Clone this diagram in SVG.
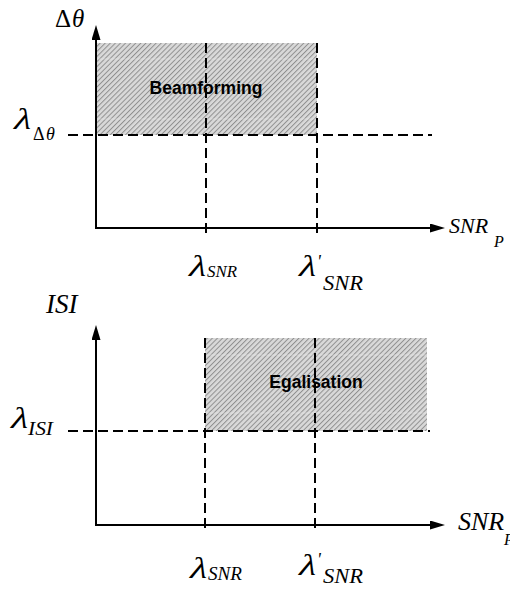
<svg xmlns="http://www.w3.org/2000/svg" width="510" height="589" viewBox="0 0 510 589">
  <defs>
    <pattern id="hatch" width="3.6" height="3.6" patternUnits="userSpaceOnUse" patternTransform="rotate(45)">
      <rect width="3.6" height="3.6" fill="#d9d9d9"/>
      <line x1="0.5" y1="0" x2="0.5" y2="3.6" stroke="#8f8f8f" stroke-width="1"/>
    </pattern>
    <marker id="arr" markerWidth="15" markerHeight="9" refX="0" refY="4.5" orient="auto" markerUnits="userSpaceOnUse">
      <path d="M0,0 L15,4.5 L0,9 z" fill="#000"/>
    </marker>
  </defs>
  <style>
    .axis { stroke:#000; stroke-width:2; fill:none; }
    .dash { stroke:#000; stroke-width:2; stroke-dasharray:10 5; fill:none; }
    .band { stroke:#efefef; stroke-width:1.2; opacity:0.45; }
    .math { font-family:"Liberation Serif","DejaVu Serif",serif; font-style:italic; fill:#000; }
    .lam { font-family:"Liberation Serif","DejaVu Serif",serif; font-style:normal; font-size:30px; fill:#000; }
    .up { font-family:"Liberation Serif","DejaVu Serif",serif; font-style:normal; fill:#000; }
    .lab { font-family:"Liberation Sans",Arial,sans-serif; font-weight:bold; font-size:17.5px; fill:#000; text-anchor:middle; }
  </style>
  <rect width="510" height="589" fill="#fff"/>

  <!-- Top chart -->
  <g id="region-beamforming">
    <rect x="96" y="43" width="221" height="92" fill="url(#hatch)"/>
    <line class="band" x1="97" y1="59" x2="316" y2="59"/>
    <line class="band" x1="97" y1="119" x2="316" y2="119"/>
    <text class="lab" x="206" y="94">Beamforming</text>
  </g>
  <g id="connectors-top">
    <line class="dash" x1="68" y1="135" x2="432" y2="135"/>
    <line class="dash" x1="206" y1="43" x2="206" y2="236"/>
    <line class="dash" x1="317" y1="43" x2="317" y2="236"/>
    <line class="axis" x1="96" y1="229" x2="96" y2="40" marker-end="url(#arr)"/>
    <line class="axis" x1="95" y1="228" x2="430" y2="228" marker-end="url(#arr)"/>
  </g>
  <g id="labels-top">
    <text x="55" y="27" font-size="25"><tspan class="up">Δ</tspan><tspan class="math" x="72">θ</tspan></text>
    <text class="lam" transform="translate(12,129) skewX(-16)" textLength="18" lengthAdjust="spacingAndGlyphs">λ</text>
    <text x="33" y="140" font-size="18"><tspan class="up">Δ</tspan><tspan class="math" x="46">θ</tspan></text>
    <text class="math" x="449" y="233" font-size="22">SNR</text>
    <text class="math" x="494" y="247" font-size="16">P</text>
    <text class="lam" transform="translate(187,276) skewX(-16)" textLength="18" lengthAdjust="spacingAndGlyphs">λ</text>
    <text class="math" x="207" y="277" font-size="17" textLength="30" lengthAdjust="spacingAndGlyphs">SNR</text>
    <text class="lam" transform="translate(297,276) skewX(-16)" textLength="18" lengthAdjust="spacingAndGlyphs">λ</text>
    <text class="math" x="317" y="268" font-size="18">'</text>
    <text class="math" x="323" y="290" font-size="20" textLength="40" lengthAdjust="spacingAndGlyphs">SNR</text>
  </g>

  <!-- Bottom chart -->
  <g id="region-egalisation">
    <rect x="205" y="338" width="222" height="93" fill="url(#hatch)"/>
    <line class="band" x1="206" y1="355" x2="426" y2="355"/>
    <line class="band" x1="206" y1="413" x2="426" y2="413"/>
    <text class="lab" x="316" y="388">Egalisation</text>
  </g>
  <g id="connectors-bottom">
    <line class="dash" x1="68" y1="431" x2="430" y2="431"/>
    <line class="dash" x1="205" y1="338" x2="205" y2="533"/>
    <line class="dash" x1="315" y1="338" x2="315" y2="533"/>
    <line class="axis" x1="96" y1="526" x2="96" y2="340" marker-end="url(#arr)"/>
    <line class="axis" x1="95" y1="525" x2="430" y2="525" marker-end="url(#arr)"/>
  </g>
  <g id="labels-bottom">
    <text class="math" x="46" y="313" font-size="27">ISI</text>
    <text class="lam" transform="translate(9,428) skewX(-16)" textLength="18" lengthAdjust="spacingAndGlyphs">λ</text>
    <text class="math" x="28" y="435" font-size="19" textLength="25" lengthAdjust="spacingAndGlyphs">ISI</text>
    <text class="math" x="458" y="530" font-size="26">SNR</text>
    <text class="math" x="504" y="545" font-size="16">P</text>
    <text class="lam" transform="translate(188,578) skewX(-16)" textLength="18" lengthAdjust="spacingAndGlyphs">λ</text>
    <text class="math" x="208" y="580" font-size="19" textLength="34" lengthAdjust="spacingAndGlyphs">SNR</text>
    <text class="lam" transform="translate(297,575) skewX(-16)" textLength="18" lengthAdjust="spacingAndGlyphs">λ</text>
    <text class="math" x="317" y="566" font-size="18">'</text>
    <text class="math" x="323" y="583" font-size="20" textLength="40" lengthAdjust="spacingAndGlyphs">SNR</text>
  </g>
</svg>
